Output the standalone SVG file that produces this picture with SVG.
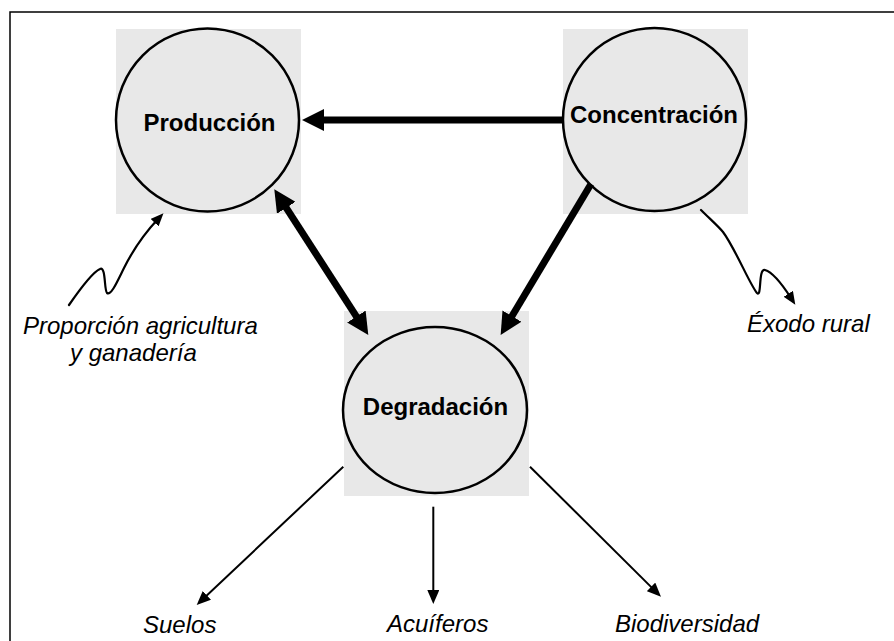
<svg xmlns="http://www.w3.org/2000/svg" width="894" height="641" viewBox="0 0 894 641">
<style>
.bg{fill:#e8e8e8;stroke:none}
.node{fill:#e8e8e8;stroke:#000;stroke-width:2.5}
.title{font-family:"Liberation Sans",Arial,sans-serif;font-size:24px;font-weight:bold;fill:#000;text-anchor:middle}
.lbl{font-family:"Liberation Sans",Arial,sans-serif;font-size:24px;font-style:italic;fill:#000}
.thick{stroke:#000;stroke-width:7;fill:none}
.thin{stroke:#000;stroke-width:2;fill:none}
.wavy{stroke:#000;stroke-width:2.2;fill:none;stroke-linejoin:round;stroke-linecap:round}
</style>
<defs>
<marker id="big" viewBox="0 0 22 22" refX="10" refY="11" markerWidth="22" markerHeight="22" markerUnits="userSpaceOnUse" orient="auto-start-reverse">
<path d="M0,0 L22,11 L0,22 z" fill="#000"/>
</marker>
<marker id="small" viewBox="0 0 14 12" refX="6" refY="6" markerWidth="14" markerHeight="12" markerUnits="userSpaceOnUse" orient="auto">
<path d="M0,0 L14,6 L0,12 z" fill="#000"/>
</marker>
<marker id="wav" viewBox="0 0 13 11" refX="5" refY="5.5" markerWidth="13" markerHeight="11" markerUnits="userSpaceOnUse" orient="auto">
<path d="M0,0 L13,5.5 L0,11 z" fill="#000"/>
</marker>
</defs>
<rect x="10" y="12" width="900" height="700" fill="#fff" stroke="#000" stroke-width="1.5"/>

<g id="produccion">
<rect class="bg" x="116" y="29" width="185" height="185"/>
<circle class="node" cx="207.5" cy="120" r="91.5"/>
<text class="title" x="209.5" y="131">Producción</text>
</g>
<g id="concentracion">
<rect class="bg" x="563" y="29" width="185" height="185"/>
<circle class="node" cx="654.5" cy="119.5" r="91.5"/>
<text class="title" x="654" y="123">Concentración</text>
</g>
<g id="degradacion">
<rect class="bg" x="344" y="311" width="185" height="185"/>
<ellipse class="node" cx="435" cy="410" rx="92" ry="83"/>
<text class="title" x="435.5" y="415">Degradación</text>
</g>

<g id="labels">
<text class="lbl" x="23" y="334">Proporción agricultura</text>
<text class="lbl" x="70" y="361">y ganadería</text>
<text class="lbl" x="747" y="332">Éxodo rural</text>
<text class="lbl" x="143" y="633">Suelos</text>
<text class="lbl" x="387" y="632">Acuíferos</text>
<text class="lbl" x="615" y="632">Biodiversidad</text>
</g>

<g id="connectors">
<line class="thick" x1="562" y1="120" x2="314" y2="120" marker-end="url(#big)"/>
<line class="thick" x1="280.8" y1="199.4" x2="361.8" y2="324.9" marker-start="url(#big)" marker-end="url(#big)"/>
<line class="thick" x1="591" y1="184" x2="506.8" y2="324.7" marker-end="url(#big)"/>
<line class="thin" x1="343.3" y1="466.7" x2="202.5" y2="599.5" marker-end="url(#small)"/>
<line class="thin" x1="433.3" y1="506.7" x2="433.3" y2="596" marker-end="url(#small)"/>
<line class="thin" x1="530" y1="466.7" x2="655.3" y2="591.1" marker-end="url(#small)"/>
<path class="wavy" d="M69,305 C78,292 93,272 100,269 C106,266 104,290 107,293 C111,296 117,282 124,268 C132,252 142,236 158,219" marker-end="url(#wav)"/>
<path class="wavy" d="M701,210 C710,219 718,226 723,232 C735,248 750,285 757,293 C762,298 758,268 765,270 C772,272 782,284 791,298" marker-end="url(#wav)"/>
</g>
</svg>
